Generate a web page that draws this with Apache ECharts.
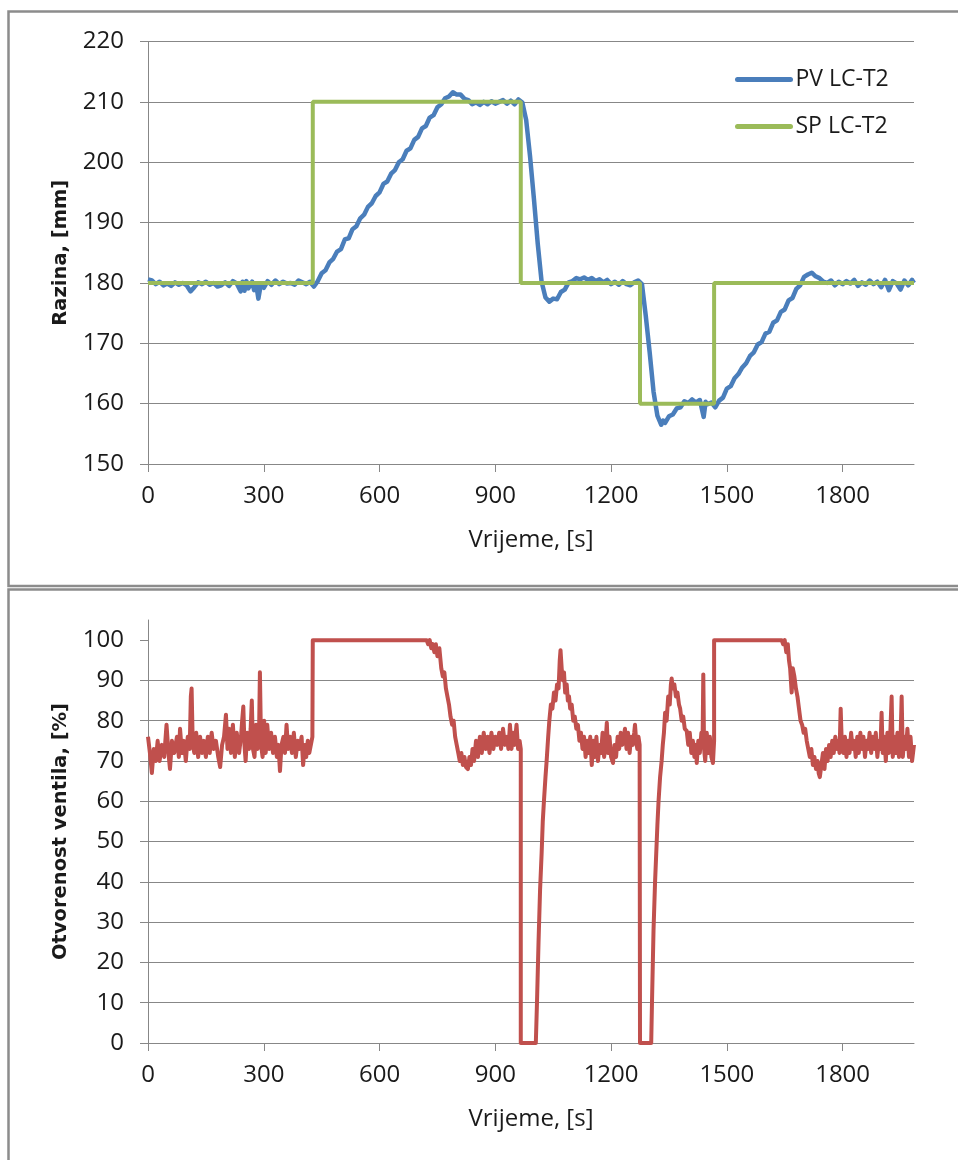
<!DOCTYPE html>
<html>
<head>
<meta charset="utf-8">
<title>Razina i otvorenost ventila</title>
<script src="https://cdn.jsdelivr.net/npm/echarts@6.0.0/dist/echarts.min.js"></script>
<style>
  html, body { margin: 0; padding: 0; background: #fff; }
  #chart { width: 958px; height: 1160px; }
</style>
</head>
<body>
<div id="chart"></div>
<script>
var timeTicks = [0, 300, 600, 900, 1200, 1500, 1800];
var levelTicks = [150, 160, 170, 180, 190, 200, 210, 220];
var valveTicks = [0, 10, 20, 30, 40, 50, 60, 70, 80, 90, 100];

// setpoint [s, mm]
var spLevel = [[0,180],[427,180],[427,210],[966,210],[966,180],[1275,180],[1275,160],[1467,160],[1467,180],[1985,180]];

// measured level [s, mm]
var pvLevel = [
  [0,180.6],[10,180.4],[20,179.8],[30,180.2],[40,179.6],[50,179.9],[60,179.5],[70,180.1],[80,179.7],[90,180.0],
  [100,179.6],[110,178.6],[115,178.9],[120,179.3],[130,180.1],[140,179.8],[150,180.2],[160,179.7],[170,180.0],[180,179.4],
  [190,179.6],[200,180.1],[210,179.5],[220,180.3],[230,179.9],[240,178.6],[245,180.2],[250,178.7],[255,180.3],[260,179.1],
  [270,180.2],[275,178.8],[280,179.9],[286,177.4],[292,179.6],[300,179.2],[310,180.3],[320,179.7],[330,180.4],[340,179.8],
  [350,180.2],[360,179.9],[370,180.0],[380,179.7],[390,180.4],[400,180.1],[410,179.8],[420,180.2],[430,179.4],[440,180.3],
  [450,181.6],[460,182.1],[470,183.4],[480,184.0],[490,185.2],[500,185.6],[510,187.2],[520,187.4],[530,188.9],[540,189.4],
  [550,190.7],[560,191.3],[570,192.6],[580,193.2],[590,194.4],[600,195.0],[610,196.4],[620,196.8],[630,198.1],[640,198.7],
  [650,200.0],[660,200.5],[670,201.9],[680,202.3],[690,203.7],[700,204.2],[710,205.6],[720,206.0],[730,207.4],[740,207.8],
  [750,209.1],[760,209.6],[770,210.6],[780,210.9],[790,211.6],[800,211.2],[810,211.2],[820,210.5],[830,210.3],[840,209.6],
  [850,209.9],[860,209.5],[870,210.0],[880,209.6],[890,210.1],[900,209.7],[910,210.0],[920,210.3],[930,209.7],[940,210.2],
  [950,209.6],[960,210.4],[970,209.9],[980,207.0],[990,201.0],[1000,194.0],[1010,186.5],[1020,180.2],[1030,177.6],[1040,176.9],
  [1050,177.4],[1060,177.3],[1070,178.5],[1080,178.9],[1090,180.1],[1100,180.3],[1110,180.8],[1120,180.6],[1130,180.9],[1140,180.5],
  [1150,180.8],[1160,180.3],[1170,180.6],[1180,180.1],[1190,180.5],[1200,179.8],[1210,180.2],[1220,179.7],[1230,180.3],[1240,179.8],
  [1250,179.6],[1260,180.1],[1270,180.4],[1280,179.8],[1290,174.5],[1300,168.5],[1310,162.0],[1320,158.0],[1330,156.5],[1335,157.2],
  [1340,156.8],[1350,157.9],[1360,158.2],[1370,159.2],[1380,159.4],[1390,160.4],[1400,160.1],[1410,160.7],[1420,160.2],[1430,160.6],
  [1440,157.8],[1445,160.3],[1450,159.9],[1460,160.2],[1470,159.4],[1480,160.5],[1490,161.0],[1500,162.5],[1510,162.9],[1520,164.2],
  [1530,164.9],[1540,166.0],[1550,166.7],[1560,167.9],[1570,168.5],[1580,169.8],[1590,170.2],[1600,171.6],[1610,171.9],[1620,173.4],
  [1630,173.8],[1640,175.2],[1650,175.6],[1660,177.1],[1670,177.5],[1680,179.0],[1690,179.6],[1700,181.0],[1710,181.4],[1720,181.7],
  [1730,181.1],[1740,180.8],[1750,180.2],[1760,180.0],[1770,180.4],[1780,179.6],[1790,180.2],[1800,179.8],[1810,180.3],[1820,179.9],
  [1830,180.5],[1840,179.5],[1850,180.1],[1860,179.7],[1870,180.4],[1880,179.8],[1890,180.2],[1900,179.3],[1910,180.5],[1920,178.8],
  [1930,180.3],[1940,179.9],[1950,178.9],[1960,180.4],[1970,179.6],[1980,180.5],[1985,180.0]
];

// valve opening [s, %]
var valveOpening = [
  [0,76],[5,72],[10,67],[15,73],[20,70],[25,75],[30,70],[36,74],[42,71],[48,79],[53,72],[57,68],[62,75],[68,72],[75,76],
  [80,71],[83,78],[88,72],[93,75],[98,70],[103,76],[108,73],[111,86],[113,88],[116,74],[120,72],[125,77],[130,71],[135,76],
  [140,72],[145,75],[150,71],[155,76],[160,72],[165,77],[170,73],[176,75],[182,71],[187,68.5],[192,74],[197,76],[202,81.5],
  [206,73],[210,78],[215,72],[220,79],[225,71],[230,77],[236,72],[241,76],[244,80],[247,83.5],[250,74],[253,70],[257,77],
  [262,73],[266,78],[269,85],[272,73],[276,71],[280,79],[284,73],[288,78],[290,92],[293,74],[297,71],[301,80],[305,72],
  [309,79],[314,73],[319,77],[324,72],[329,76],[334,71],[338,74],[342,67.5],[346,74],[351,76],[355,72],[359,79],[363,73],
  [368,76],[373,72],[378,77],[383,71],[388,75],[393,73],[398,76],[402,69],[406,74],[410,71],[414,75],[418,72],[422,74],
  [426,76],[427,100],[722,100],[726,99],[730,100],[734,98],[738,99],[742,97],[746,99],[750,96],[755,98],[760,93],[764,91],
  [768,92],[772,88],[776,86],[780,84],[784,81],[788,79],[792,80],[796,76],[800,74],[804,72],[808,70],[812,72],[816,69],
  [820,71],[824,68.5],[829,68],[833,71],[837,69],[841,73],[845,70],[850,75],[855,71],[860,76],[865,72],[870,77],[875,73],
  [880,76],[885,72],[890,77],[895,73],[900,76],[905,74],[910,77],[915,73],[920,78],[925,74],[930,76],[934,73],[938,79],
  [942,73],[946,77],[950,74],[955,79],[959,73],[963,75],[966,73],[966,0],[1005,0],[1008,10],[1012,25],[1016,38],[1020,47],
  [1023,55],[1026,60],[1030,66],[1033,70],[1037,76],[1040,80],[1044,84],[1048,83],[1052,87],[1056,85],[1060,89],[1064,88],
  [1067,95],[1069,97.5],[1072,93],[1075,90],[1078,92],[1081,87],[1085,89],[1088,85],[1091,86],[1094,83],[1098,84],[1102,80],
  [1106,81],[1110,78],[1114,79],[1118,75],[1122,77],[1126,73],[1130,76],[1134,71],[1138,75],[1142,72],[1146,76],[1150,69],
  [1154,75],[1158,71],[1162,76],[1166,70],[1170,74],[1174,72],[1178,77],[1182,71],[1186,75],[1189,79.5],[1192,72],[1196,76],
  [1200,71],[1205,69.5],[1209,74],[1213,71],[1217,76],[1221,73],[1225,77],[1229,74],[1233,76],[1236,78],[1240,73],[1244,77],
  [1248,72],[1252,76],[1256,74],[1260,77],[1262,79],[1265,75],[1268,73],[1271,76],[1274,74],[1275,0],[1304,0],[1306,10],
  [1310,28],[1314,40],[1317,47],[1320,54],[1323,60],[1327,66],[1331,70],[1334,74],[1337,77],[1340,82],[1344,80],[1348,86],
  [1352,84],[1355,89],[1357,90.5],[1360,88],[1364,89],[1368,86],[1372,87],[1376,84],[1379,83],[1383,80],[1387,81],[1391,78],
  [1396,77.5],[1400,74],[1404,77],[1408,72],[1412,75],[1416,71],[1420,74],[1422,69.5],[1426,75],[1430,72],[1434,77],[1437,74],
  [1439,91.5],[1441,73],[1444,70],[1448,77],[1452,72],[1456,76],[1460,71],[1464,69.5],[1467,75],[1467,100],[1642,100],[1646,99],
  [1650,100],[1654,97],[1658,99],[1661,95],[1664,93],[1668,87],[1671,93],[1675,91],[1679,88],[1683,86],[1687,83],[1691,80],
  [1695,79],[1699,77],[1703,78],[1707,75],[1711,73],[1715,71],[1719,73],[1723,69],[1727,71],[1731,68],[1735,70],[1738,67],
  [1741,66],[1745,69],[1749,72],[1753,68],[1757,73],[1761,70],[1765,74],[1769,71],[1773,75],[1777,72],[1781,76],[1785,73],
  [1789,75],[1792,72],[1795,83],[1798,74],[1802,72],[1806,76],[1810,71],[1814,75],[1818,72],[1822,77],[1826,73],[1830,75],
  [1834,71],[1838,76],[1842,72],[1846,77],[1850,73],[1854,76],[1858,71],[1862,75],[1866,73],[1870,77],[1874,72],[1878,76],
  [1882,73],[1886,77],[1890,71],[1894,75],[1898,73],[1901,82],[1904,72],[1908,76],[1912,70],[1916,77],[1920,72],[1924,78],
  [1927,86],[1930,71],[1934,76],[1938,72],[1942,77],[1946,71],[1950,75],[1953,86],[1956,71],[1960,76],[1964,73],[1968,78],
  [1972,71],[1976,76],[1980,70],[1985,74]
];

var gridColor = '#878787';
var textColor = '#1a1a1a';
var labelFont = 'Open Sans';

function plainNumber(v)
{
  return String(v);
}

function timeAxis(gridIndex)
{
  return {
    type : 'value',
    gridIndex : gridIndex,
    min : 0,
    max : 1985,
    interval : 300,
    name : 'Vrijeme, [s]',
    nameLocation : 'middle',
    nameGap : 64,
    nameTextStyle : { fontFamily : labelFont, fontSize : 24, color : textColor },
    axisLine : { onZero : false, lineStyle : { color : gridColor, width : 1 } },
    axisTick : { inside : false, length : 8, customValues : timeTicks, lineStyle : { color : gridColor } },
    axisLabel : { customValues : timeTicks, formatter : plainNumber, margin : 20, fontFamily : labelFont, fontSize : 24, color : textColor },
    splitLine : { show : false }
  };
}

function valueAxis(gridIndex, name, min, max, ticks)
{
  return {
    type : 'value',
    gridIndex : gridIndex,
    min : min,
    max : max,
    interval : 10,
    name : name,
    nameLocation : 'middle',
    nameGap : 77,
    nameTextStyle : {
      fontFamily : 'DejaVu Sans',
      fontWeight : 'bold',
      fontSize : 19.5,
      color : textColor
    },
    axisLine : { show : true, lineStyle : { color : gridColor, width : 1 } },
    axisTick : { show : true, inside : false, length : 8, customValues : ticks, lineStyle : { color : gridColor } },
    axisLabel : { customValues : ticks, formatter : plainNumber, margin : 24, fontFamily : labelFont, fontSize : 24, color : textColor },
    splitLine : { show : true, showMaxLine : max === ticks[ticks.length - 1], lineStyle : { color : gridColor, width : 1 } }
  };
}

var chart = echarts.init(document.getElementById('chart'), null, { renderer : 'canvas' });

chart.setOption({
  animation : false,
  backgroundColor : '#fff',
  graphic : [
    { type : 'rect', shape : { x : 8.5, y : 11.5, width : 1000, height : 574.5 }, style : { fill : 'none', stroke : '#8c8c8c', lineWidth : 2.5 }, silent : true },
    { type : 'rect', shape : { x : 8.5, y : 589.5, width : 1000, height : 620 }, style : { fill : 'none', stroke : '#8c8c8c', lineWidth : 2.5 }, silent : true }
  ],
  grid : [
    { left : 148, top : 41.5, width : 766, height : 422.5 },
    { left : 148, top : 620, width : 766, height : 423 }
  ],
  legend : {
    data : ['PV LC-T2', 'SP LC-T2'],
    orient : 'vertical',
    left : 735,
    top : 68,
    padding : 0,
    itemWidth : 53,
    itemHeight : 24,
    itemGap : 24,
    itemStyle : { opacity : 0 },
    lineStyle : { width : 5, cap : 'round' },
    textStyle : { fontFamily : labelFont, fontSize : 23, color : textColor }
  },
  xAxis : [timeAxis(0), timeAxis(1)],
  yAxis : [
    valueAxis(0, 'Razina, [mm]', 150, 220, levelTicks),
    valueAxis(1, 'Otvorenost ventila, [%]', 0, 105, valveTicks)
  ],
  series : [
    {
      name : 'PV LC-T2',
      type : 'line',
      xAxisIndex : 0,
      yAxisIndex : 0,
      data : pvLevel,
      symbol : 'none',
      color : '#4a7ebb',
      lineStyle : { width : 4.5, join : 'round' }
    },
    {
      name : 'SP LC-T2',
      type : 'line',
      xAxisIndex : 0,
      yAxisIndex : 0,
      data : spLevel,
      symbol : 'none',
      color : '#9bbb59',
      lineStyle : { width : 4 }
    },
    {
      name : 'Otvorenost ventila',
      type : 'line',
      xAxisIndex : 1,
      yAxisIndex : 1,
      data : valveOpening,
      symbol : 'none',
      color : '#c0504d',
      lineStyle : { width : 4, join : 'round' }
    }
  ]
});
</script>
</body>
</html>
